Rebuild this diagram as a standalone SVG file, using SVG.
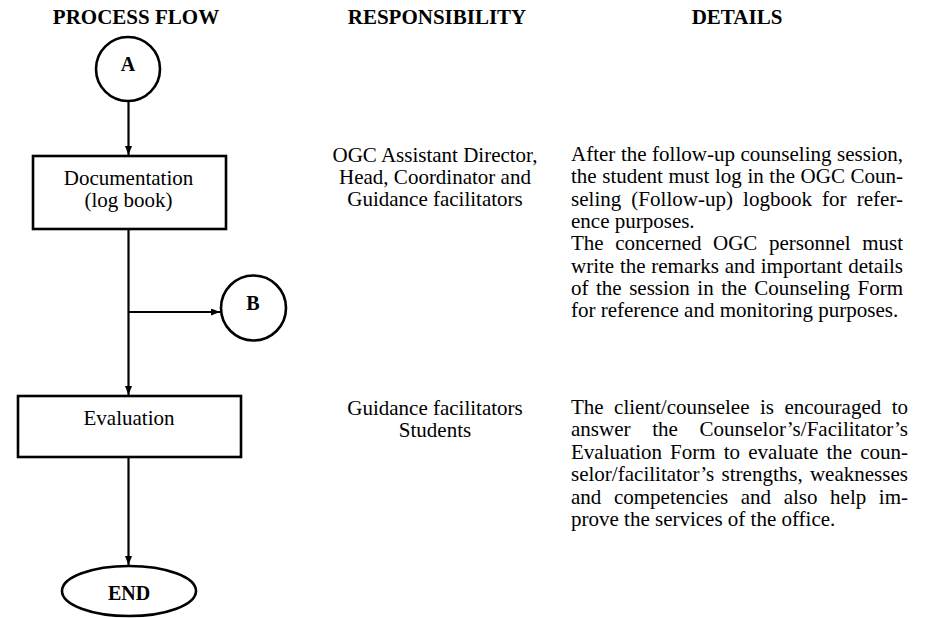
<svg xmlns="http://www.w3.org/2000/svg" width="935" height="618" viewBox="0 0 935 618">
<style>
text{font-family:"Liberation Serif","Times New Roman",serif;fill:#000}
.h{font-size:21px;font-weight:bold;text-anchor:middle}
.lbl{font-size:20px;font-weight:bold;text-anchor:middle}
.t{font-size:21px}
.c{text-anchor:middle}
.shape{fill:#fff;stroke:#000;stroke-width:2.6}
.conn{fill:none;stroke:#000;stroke-width:2.2;marker-end:url(#arr)}
</style>
<defs>
<marker id="arr" markerUnits="userSpaceOnUse" markerWidth="10" markerHeight="8" refX="9" refY="3.5" orient="auto">
<path d="M0,0 L9,3.5 L0,7 z" fill="#000"/>
</marker>
</defs>
<g id="headers">
<text class="h" x="136" y="24">PROCESS FLOW</text>
<text class="h" x="437" y="24">RESPONSIBILITY</text>
<text class="h" x="737" y="24">DETAILS</text>
</g>
<g id="connectors">
<line class="conn" x1="128.5" y1="101" x2="128.5" y2="155"/>
<line class="conn" x1="128.5" y1="229" x2="128.5" y2="395"/>
<line class="conn" x1="128.5" y1="312" x2="220" y2="312"/>
<line class="conn" x1="128.5" y1="457" x2="128.5" y2="565"/>
</g>
<g id="nodeA">
<circle class="shape" cx="128" cy="69" r="32"/>
<text class="lbl" x="128" y="71">A</text>
</g>
<g id="documentation">
<rect class="shape" x="33" y="156" width="193" height="73"/>
<text class="t c" x="128.5" y="185">Documentation</text>
<text class="t c" x="128.5" y="207">(log book)</text>
</g>
<g id="nodeB">
<circle class="shape" cx="253.5" cy="308" r="32.5"/>
<text class="lbl" x="253" y="310">B</text>
</g>
<g id="evaluation">
<rect class="shape" x="18" y="396" width="223" height="61"/>
<text class="t c" x="129" y="425">Evaluation</text>
</g>
<g id="end">
<ellipse class="shape" cx="129" cy="591" rx="67" ry="25"/>
<text class="lbl" x="129" y="600">END</text>
</g>
<g id="responsibility">
<text class="t c" x="435" y="162">OGC Assistant Director,</text>
<text class="t c" x="435" y="184">Head, Coordinator and</text>
<text class="t c" x="435" y="206">Guidance facilitators</text>
<text class="t c" x="435" y="415">Guidance facilitators</text>
<text class="t c" x="435" y="437">Students</text>
</g>
<g id="details1">
<text class="t" x="571" y="161" word-spacing="0.3" textLength="332" lengthAdjust="spacing">After the follow-up counseling session,</text>
<text class="t" x="571" y="183.3" word-spacing="0.35" textLength="332" lengthAdjust="spacing">the student must log in the OGC Coun-</text>
<text class="t" x="571" y="205.6" word-spacing="4.85" textLength="332" lengthAdjust="spacing">seling (Follow-up) logbook for refer-</text>
<text class="t" x="571" y="227.9">ence purposes.</text>
<text class="t" x="571" y="250.2" word-spacing="6.3" textLength="332" lengthAdjust="spacing">The concerned OGC personnel must</text>
<text class="t" x="571" y="272.5" word-spacing="0.5" textLength="332" lengthAdjust="spacing">write the remarks and important details</text>
<text class="t" x="571" y="294.8" word-spacing="2.25" textLength="332" lengthAdjust="spacing">of the session in the Counseling Form</text>
<text class="t" x="571" y="317.1">for reference and monitoring purposes.</text>
</g>
<g id="details2">
<text class="t" x="571" y="413.5" word-spacing="5.2" textLength="337" lengthAdjust="spacing">The client/counselee is encouraged to</text>
<text class="t" x="571" y="436" word-spacing="16.3" textLength="337" lengthAdjust="spacing">answer the Counselor’s/Facilitator’s</text>
<text class="t" x="571" y="458.5" word-spacing="2.9" textLength="337" lengthAdjust="spacing">Evaluation Form to evaluate the coun-</text>
<text class="t" x="571" y="481" word-spacing="2" textLength="337" lengthAdjust="spacing">selor/facilitator’s strengths, weaknesses</text>
<text class="t" x="571" y="503.5" word-spacing="7.3" textLength="337" lengthAdjust="spacing">and competencies and also help im-</text>
<text class="t" x="571" y="526">prove the services of the office.</text>
</g>
</svg>
